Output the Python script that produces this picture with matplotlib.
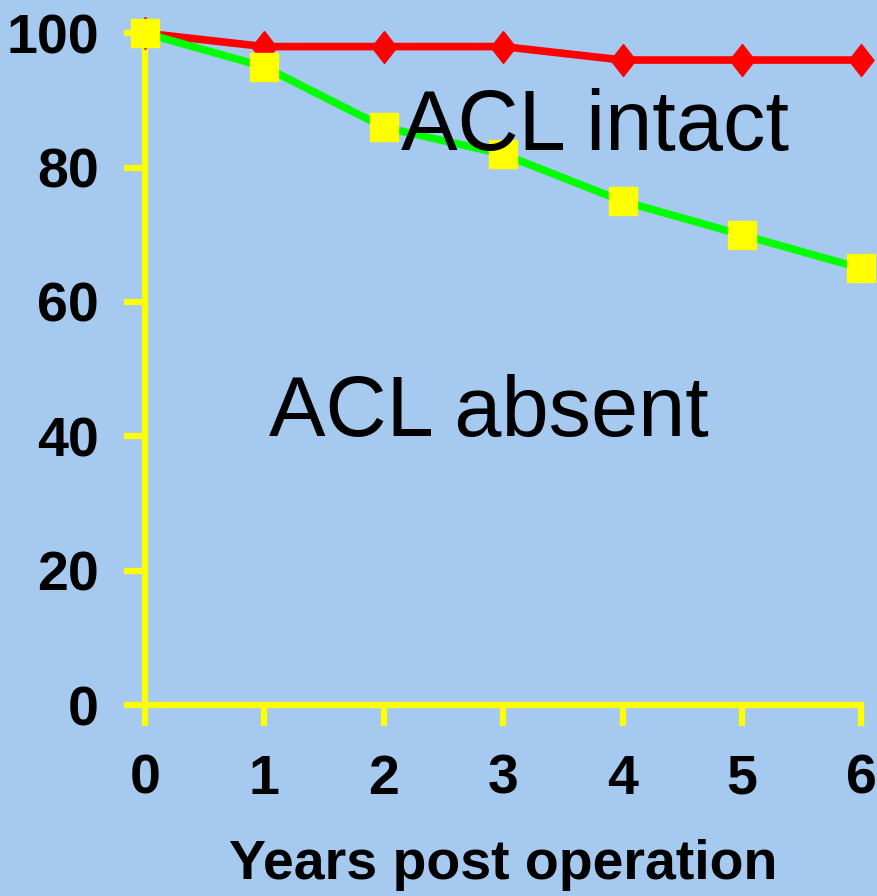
import matplotlib.pyplot as plt

years = [0, 1, 2, 3, 4, 5, 6]
acl_intact = [100, 98, 98, 98, 96, 96, 96]
acl_absent = [100, 95, 86, 82, 75, 70, 65]
yticks = [0, 20, 40, 60, 80, 100]

bg = "#a6c9ef"
yellow = "#ffff00"
font = ["Liberation Sans Narrow", "Liberation Sans", "DejaVu Sans"]
diamond = [(0, 1), (0.78, 0), (0, -1), (-0.78, 0), (0, 1)]

fig = plt.figure(figsize=(8.78, 8.96), dpi=100, facecolor=bg)
ax = fig.add_axes([0.165, 0.213, 0.816, 0.750])
ax.set_facecolor(bg)

ax.plot(years, acl_intact, color="#ff0000", lw=5.5, marker=diamond, ms=23,
        mfc="#ff0000", mec="#ff0000", clip_on=False, zorder=3)
ax.plot(years, acl_absent, color="#00ff00", lw=5.5, marker="s", ms=20,
        mfc=yellow, mec=yellow, clip_on=False, zorder=4)

ax.set_xlim(0, 6)
ax.set_ylim(0, 100)
ax.set_xticks(years)
ax.set_yticks(yticks)

for s in ["top", "right"]:
    ax.spines[s].set_visible(False)
for s in ["left", "bottom"]:
    ax.spines[s].set_color(yellow)
    ax.spines[s].set_linewidth(4.5)
ax.tick_params(colors=yellow, width=4.5, length=15, direction="out")
ax.tick_params(axis="x", pad=20)
ax.tick_params(axis="y", pad=18)
for lab in ax.get_xticklabels() + ax.get_yticklabels():
    lab.set_color("black")
    lab.set_fontsize(40)
    lab.set_fontweight("bold")
    lab.set_family(font)

ax.set_xlabel("Years post operation", fontsize=40, fontweight="bold",
              family=font, labelpad=24)

ax.text(3.77, 82.6, "ACL intact", fontsize=61, family=["Liberation Sans", "DejaVu Sans"],
        ha="center", va="baseline", zorder=5)
ax.text(2.88, 40, "ACL absent", fontsize=61, family=["Liberation Sans", "DejaVu Sans"],
        ha="center", va="baseline", zorder=5)

fig.savefig("out.png", dpi=100, facecolor=bg)
